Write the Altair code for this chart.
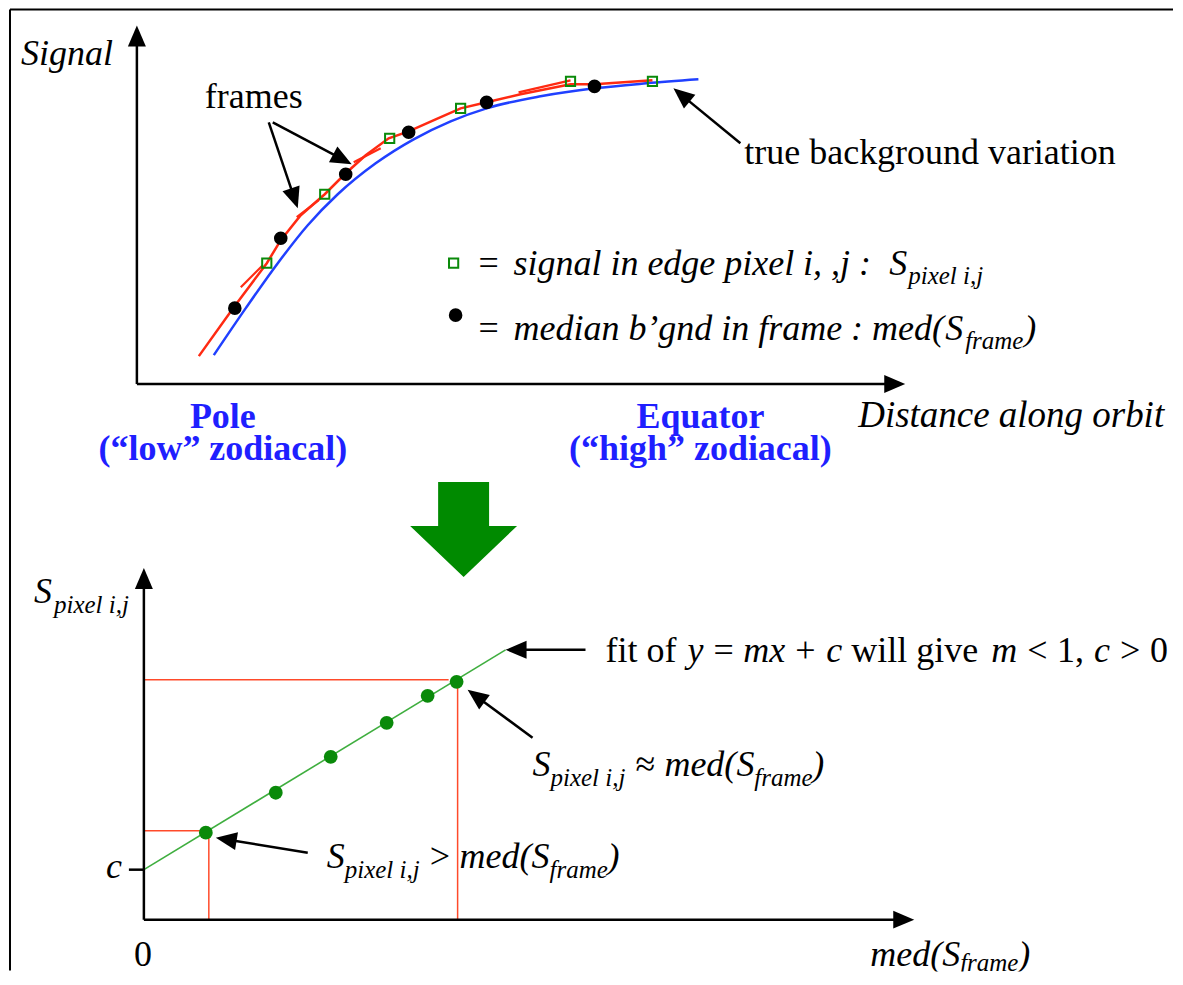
import math
import altair as alt
import pandas as pd

FONT = "Liberation Serif"

# ---------------- top panel (units: distance along orbit / signal) ----------------
true_bg_x = [7.7, 10.9, 14.1, 17.1, 20.1, 23.9, 27.7, 31.4, 35.0, 40.4, 45.8, 51.0, 56.2]
true_bg_y = [2.9, 7.6, 12.1, 15.9, 19.0, 22.1, 24.5, 26.3, 27.6, 28.8, 29.6, 30.1, 30.5]

frame_fit_x = [6.2, 9.7, 13.0, 14.4, 16.4, 18.8, 20.8, 22.9, 25.2, 27.2, 29.9, 32.4, 35.0, 38.4, 43.4, 45.8, 51.6]
frame_fit_y = [2.8, 7.7, 12.1, 14.4, 16.9, 19.0, 21.0, 22.9, 24.6, 25.3, 26.5, 27.6, 28.2, 29.0, 30.0, 30.0, 30.4]

frame_stub_id = [1, 1, 2, 2, 3, 3, 4, 4]
frame_stub_x = [10.4, 12.6, 16.0, 18.2, 21.7, 24.4, 38.2, 43.4]
frame_stub_y = [9.7, 11.9, 16.7, 18.4, 22.2, 23.6, 29.2, 30.4]

median_x = [9.8, 14.4, 20.9, 27.2, 35.0, 45.8]
median_y = [7.6, 14.6, 21.0, 25.2, 28.2, 29.8]

edge_x = [13.0, 18.8, 25.3, 32.4, 43.4, 51.6]
edge_y = [12.1, 19.0, 24.6, 27.6, 30.3, 30.3]

legend_sq = (31.7, 12.1)
legend_dot = (31.9, 6.9)

top_arrow_x0 = [0.0, 0.0, 13.2, 13.6, 60.4]
top_arrow_y0 = [0.0, 0.0, 26.2, 26.2, 24.1]
top_arrow_x1 = [0.0, 76.9, 16.1, 21.5, 53.7]
top_arrow_y1 = [35.9, 0.0, 17.6, 22.0, 29.6]

top_norm_t = ["frames", "true background variation", "=", "="]
top_norm_x = [6.8, 60.8, 34.2, 34.2]
top_norm_y = [27.6, 22.0, 10.9, 4.4]

top_ital_t = ["Signal", "signal in edge pixel i, ,j :", "S", "median b\u2019gnd in frame : med(", "S", ")", "Distance along orbit"]
top_ital_x = [-11.6, 37.7, 75.3, 37.7, 80.9, 88.8, 72.2]
top_ital_y = [31.9, 10.9, 10.9, 4.4, 4.4, 4.4, -4.3]
top_ital_s = [36, 36, 36, 36, 36, 36, 37]

top_sub_t = ["pixel i,j", "frame"]
top_sub_x = [77.2, 82.9]
top_sub_y = [10.0, 3.5]

top_blue_t = ["Pole", "(\u201clow\u201d zodiacal)", "Equator", "(\u201chigh\u201d zodiacal)"]
top_blue_x = [8.6, 8.6, 56.4, 56.4]
top_blue_y = [-4.4, -7.6, -4.4, -7.6]

# ---------------- bottom panel (units: med(S_frame) / S_pixel) ----------------
fit_x = [0.0, 36.2]
fit_y = [5.0, 27.0]

pix_x = [6.2, 13.2, 18.7, 24.3, 28.4, 31.3]
pix_y = [8.7, 12.7, 16.3, 19.7, 22.4, 23.8]

guide_x0 = [0.0, 31.4, 0.0, 6.5]
guide_y0 = [24.0, 23.3, 8.9, 8.5]
guide_x1 = [30.5, 31.4, 5.6, 6.5]
guide_y1 = [24.0, 0.0, 8.9, 0.0]

bot_arrow_x0 = [0.0, 0.0, 44.2, 38.9, 16.4]
bot_arrow_y0 = [0.0, 0.0, 27.0, 18.2, 6.7]
bot_arrow_x1 = [0.0, 77.1, 36.2, 32.4, 7.2]
bot_arrow_y1 = [35.2, 0.0, 27.0, 23.0, 8.2]

c_tick = ([-1.5, 0.0], [5.0, 5.0])

big_arrow = (32.0, 39.4)

bot_norm_t = ["0", "fit of", "=", "+", "will give", "<", "1,", ">", "0", "\u2248", ">"]
bot_norm_x = [-1.0, 46.2, 57.0, 65.2, 70.8, 88.4, 91.4, 97.7, 100.7, 49.2, 28.6]
bot_norm_y = [-4.6, 25.8, 25.8, 25.8, 25.8, 25.8, 25.8, 25.8, 25.8, 14.4, 5.2]

bot_ital_t = ["c", "S", "y", "mx", "c", "m", "c", "S", "med(", "S", ")", "S", "med(", "S", ")", "med(", "S", ")"]
bot_ital_x = [-3.8, -11.0, 54.4, 60.0, 68.3, 84.8, 95.1, 38.9, 52.1, 59.3, 66.9, 18.3, 31.6, 38.8, 46.4, 72.7, 79.9, 87.5]
bot_ital_y = [4.2, 31.7, 25.8, 25.8, 25.8, 25.8, 25.8, 14.4, 14.4, 14.4, 14.4, 5.2, 5.2, 5.2, 5.2, -4.6, -4.6, -4.6]

bot_sub_t = ["pixel i,j", "pixel i,j", "frame", "pixel i,j", "frame", "frame"]
bot_sub_x = [-9.0, 40.7, 61.1, 20.1, 40.6, 81.7]
bot_sub_y = [30.7, 13.4, 13.4, 4.2, 4.2, -5.1]

# ---------------- layout / style ----------------
W = 1167
H_TOP = 470
H_BOT = 494
TOP_X = [-12.8, 103.9]
TOP_Y = [-9.4, 37.6]
BOT_X = [-13.5, 103.2]
BOT_Y = [-5.2, 44.2]

BLUE = "#2040ff"
RED = "#ff2a12"
GREEN = "#0a8a0a"
HEAD = "M0,0L-0.9,2.1L0.9,2.1Z"
BIG = "M-2.55,-4.4L2.55,-4.4L2.55,0L5.35,0L0,5.1L-5.35,0L-2.55,0Z"


def enc(xd, yd, xf="x", yf="y"):
    return dict(
        x=alt.X(f"{xf}:Q", scale=alt.Scale(domain=xd, nice=False, zero=False), axis=None),
        y=alt.Y(f"{yf}:Q", scale=alt.Scale(domain=yd, nice=False, zero=False), axis=None),
    )


def texts(t, xv, yv, xd, yd, size, style="normal", weight="normal", color="black", align="left", clip=False):
    sizes = size if isinstance(size, list) else [size] * len(t)
    df = pd.DataFrame({"x": xv, "y": yv, "t": t, "s": sizes})
    return alt.Chart(df).mark_text(
        font=FONT, fontStyle=style, fontWeight=weight,
        color=color, align=align, baseline="alphabetic", clip=clip
    ).encode(text="t:N", size=alt.Size("s:Q", scale=None, legend=None), **enc(xd, yd))


def arrows(x0, y0, x1, y1, xd, yd, width=2.5):
    shafts, heads = [], []
    for a, b, c, d in zip(x0, y0, x1, y1):
        L = math.hypot(c - a, d - b)
        ux, uy = (c - a) / L, (d - b) / L
        shafts.append({"x": a, "y": b, "x2": c - 0.6 * ux, "y2": d - 0.6 * uy})
        heads.append({"x": c, "y": d, "ang": math.degrees(math.atan2(c - a, d - b)) % 360})
    e = enc(xd, yd)
    s = alt.Chart(pd.DataFrame(shafts)).mark_rule(color="black", strokeWidth=width).encode(
        x2="x2:Q", y2="y2:Q", **e)
    h = alt.Chart(pd.DataFrame(heads)).mark_point(
        shape=HEAD, size=400, filled=True, color="black", opacity=1, strokeWidth=0
    ).encode(angle=alt.Angle("ang:Q", scale=None), **e)
    return [s, h]


def rules(x0, y0, x1, y1, xd, yd, color, width):
    df = pd.DataFrame({"x": x0, "y": y0, "x2": x1, "y2": y1})
    return alt.Chart(df).mark_rule(color=color, strokeWidth=width).encode(
        x2="x2:Q", y2="y2:Q", **enc(xd, yd))


# ---------------- top panel layers ----------------
eT = enc(TOP_X, TOP_Y)
border_top = rules([-12.7, -12.7], [-9.4, 37.5], [-12.7, 103.7], [37.5, 37.5], TOP_X, TOP_Y, "black", 2)

blue_line = alt.Chart(pd.DataFrame({"x": true_bg_x, "y": true_bg_y, "i": range(len(true_bg_x))})).mark_line(
    color=BLUE, strokeWidth=2.5, interpolate="monotone").encode(order="i:Q", **eT)

red_line = alt.Chart(pd.DataFrame({"x": frame_fit_x, "y": frame_fit_y, "i": range(len(frame_fit_x))})).mark_line(
    color=RED, strokeWidth=2.5).encode(order="i:Q", **eT)

red_stubs = alt.Chart(pd.DataFrame({"x": frame_stub_x, "y": frame_stub_y, "g": frame_stub_id})).mark_line(
    color=RED, strokeWidth=2.2).encode(detail="g:N", **eT)

edge_df = pd.DataFrame({"x": edge_x + [legend_sq[0]], "y": edge_y + [legend_sq[1]]})
edge_pts = alt.Chart(edge_df).mark_point(
    shape="square", size=85, filled=False, color=GREEN, strokeWidth=2, opacity=1).encode(**eT)

med_df = pd.DataFrame({"x": median_x + [legend_dot[0]], "y": median_y + [legend_dot[1]]})
med_pts = alt.Chart(med_df).mark_circle(size=185, color="black", opacity=1).encode(**eT)

top_layers = [border_top, blue_line, red_line, red_stubs, edge_pts, med_pts]
top_layers += arrows(top_arrow_x0, top_arrow_y0, top_arrow_x1, top_arrow_y1, TOP_X, TOP_Y)
top_layers += [
    texts(top_norm_t, top_norm_x, top_norm_y, TOP_X, TOP_Y, 36),
    texts(top_ital_t, top_ital_x, top_ital_y, TOP_X, TOP_Y, top_ital_s, style="italic"),
    texts(top_sub_t, top_sub_x, top_sub_y, TOP_X, TOP_Y, 25, style="italic"),
    texts(top_blue_t, top_blue_x, top_blue_y, TOP_X, TOP_Y, 36, weight="bold", color="#1f1fff", align="center"),
]
top = alt.layer(*top_layers).properties(width=W, height=H_TOP)

# ---------------- bottom panel layers ----------------
eB = enc(BOT_X, BOT_Y)
border_bot = rules([-13.4], [-5.1], [-13.4], [44.2], BOT_X, BOT_Y, "black", 2)

big = alt.Chart(pd.DataFrame({"x": [big_arrow[0]], "y": [big_arrow[1]]})).mark_point(
    shape=BIG, size=400, filled=True, color="#008a00", opacity=1, strokeWidth=0).encode(**eB)

guides = rules(guide_x0, guide_y0, guide_x1, guide_y1, BOT_X, BOT_Y, "#ff4a2a", 1.5)

fit_line = alt.Chart(pd.DataFrame({"x": fit_x, "y": fit_y})).mark_line(
    color="#3fae3f", strokeWidth=1.6).encode(**eB)

pix_pts = alt.Chart(pd.DataFrame({"x": pix_x, "y": pix_y})).mark_circle(
    size=190, color="#0a8a0a", opacity=1).encode(**eB)

tick = rules([c_tick[0][0]], [c_tick[1][0]], [c_tick[0][1]], [c_tick[1][1]], BOT_X, BOT_Y, "black", 2.5)

bot_layers = [border_bot, big, guides, fit_line, pix_pts, tick]
bot_layers += arrows(bot_arrow_x0, bot_arrow_y0, bot_arrow_x1, bot_arrow_y1, BOT_X, BOT_Y)
bot_layers += [
    texts(bot_norm_t, bot_norm_x, bot_norm_y, BOT_X, BOT_Y, 36, clip=True),
    texts(bot_ital_t, bot_ital_x, bot_ital_y, BOT_X, BOT_Y, 36, style="italic", clip=True),
    texts(bot_sub_t, bot_sub_x, bot_sub_y, BOT_X, BOT_Y, 25, style="italic", clip=True),
]
bottom = alt.layer(*bot_layers).properties(width=W, height=H_BOT)

chart = alt.vconcat(top, bottom, spacing=0, bounds="flush").properties(
    padding=0, background="white"
).configure_view(stroke=None)

chart.save("out.html", embed_options={"renderer": "svg", "actions": False})
